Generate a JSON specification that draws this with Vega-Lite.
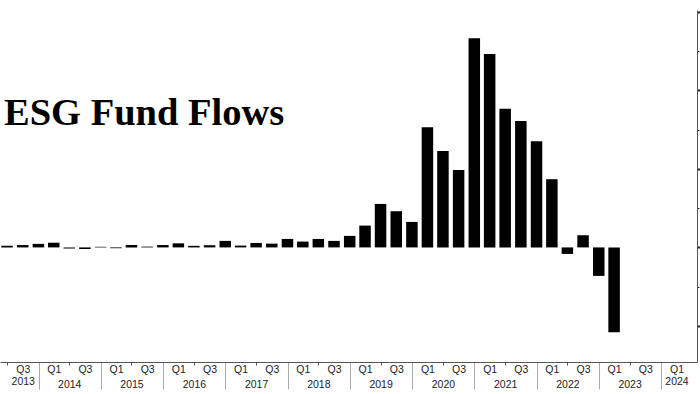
{
  "$schema": "https://vega.github.io/schema/vega-lite/v6.json",
  "width": 697,
  "height": 352,
  "autosize": {"type": "none"},
  "padding": {"left": 0, "right": 3, "top": 10, "bottom": 32},
  "background": "#ffffff",
  "config": {"view": {"stroke": null}, "axis": {"grid": false}},
  "title": {
    "text": "ESG Fund Flows",
    "anchor": "start",
    "frame": "group",
    "orient": "top",
    "font": "Liberation Serif",
    "fontSize": 38.5,
    "fontWeight": "bold",
    "color": "#000000",
    "baseline": "alphabetic",
    "offset": 0,
    "dx": 4,
    "dy": 153
  },
  "data": {
    "values": [
      {"quarter": "2013 Q2", "date": "2013-06-30", "flow": 0.2},
      {"quarter": "2013 Q3", "date": "2013-09-30", "flow": 0.3},
      {"quarter": "2013 Q4", "date": "2013-12-31", "flow": 0.45},
      {"quarter": "2014 Q1", "date": "2014-03-31", "flow": 0.6},
      {"quarter": "2014 Q2", "date": "2014-06-30", "flow": -0.15},
      {"quarter": "2014 Q3", "date": "2014-09-30", "flow": -0.2},
      {"quarter": "2014 Q4", "date": "2014-12-31", "flow": 0.08},
      {"quarter": "2015 Q1", "date": "2015-03-31", "flow": -0.1},
      {"quarter": "2015 Q2", "date": "2015-06-30", "flow": 0.3},
      {"quarter": "2015 Q3", "date": "2015-09-30", "flow": 0.1},
      {"quarter": "2015 Q4", "date": "2015-12-31", "flow": 0.3},
      {"quarter": "2016 Q1", "date": "2016-03-31", "flow": 0.52},
      {"quarter": "2016 Q2", "date": "2016-06-30", "flow": 0.2},
      {"quarter": "2016 Q3", "date": "2016-09-30", "flow": 0.28},
      {"quarter": "2016 Q4", "date": "2016-12-31", "flow": 0.83},
      {"quarter": "2017 Q1", "date": "2017-03-31", "flow": 0.23},
      {"quarter": "2017 Q2", "date": "2017-06-30", "flow": 0.57},
      {"quarter": "2017 Q3", "date": "2017-09-30", "flow": 0.48},
      {"quarter": "2017 Q4", "date": "2017-12-31", "flow": 1.08},
      {"quarter": "2018 Q1", "date": "2018-03-31", "flow": 0.74},
      {"quarter": "2018 Q2", "date": "2018-06-30", "flow": 1.08},
      {"quarter": "2018 Q3", "date": "2018-09-30", "flow": 0.83},
      {"quarter": "2018 Q4", "date": "2018-12-31", "flow": 1.47},
      {"quarter": "2019 Q1", "date": "2019-03-31", "flow": 2.78},
      {"quarter": "2019 Q2", "date": "2019-06-30", "flow": 5.54},
      {"quarter": "2019 Q3", "date": "2019-09-30", "flow": 4.61},
      {"quarter": "2019 Q4", "date": "2019-12-31", "flow": 3.25},
      {"quarter": "2020 Q1", "date": "2020-03-31", "flow": 15.31},
      {"quarter": "2020 Q2", "date": "2020-06-30", "flow": 12.29},
      {"quarter": "2020 Q3", "date": "2020-09-30", "flow": 9.87},
      {"quarter": "2020 Q4", "date": "2020-12-31", "flow": 26.65},
      {"quarter": "2021 Q1", "date": "2021-03-31", "flow": 24.65},
      {"quarter": "2021 Q2", "date": "2021-06-30", "flow": 17.68},
      {"quarter": "2021 Q3", "date": "2021-09-30", "flow": 16.11},
      {"quarter": "2021 Q4", "date": "2021-12-31", "flow": 13.53},
      {"quarter": "2022 Q1", "date": "2022-03-31", "flow": 8.69},
      {"quarter": "2022 Q2", "date": "2022-06-30", "flow": -0.83},
      {"quarter": "2022 Q3", "date": "2022-09-30", "flow": 1.55},
      {"quarter": "2022 Q4", "date": "2022-12-31", "flow": -3.63},
      {"quarter": "2023 Q1", "date": "2023-03-31", "flow": -10.8}
    ]
  },
  "mark": {"type": "bar", "size": 11.5, "color": "#000000"},
  "encoding": {
    "x": {
      "field": "date",
      "type": "temporal",
      "scale": {
        "type": "utc",
        "domain": [
          {"year": 2013, "month": 6, "date": 18, "utc": true},
          {"year": 2024, "month": 6, "date": 30, "utc": true}
        ]
      },
      "axis": {
        "orient": "bottom",
        "title": null,
        "domainColor": "#555555",
        "domainWidth": 1,
        "values": [
          {"year": 2014, "month": 1, "date": 1, "utc": true},
          {"year": 2015, "month": 1, "date": 1, "utc": true},
          {"year": 2016, "month": 1, "date": 1, "utc": true},
          {"year": 2017, "month": 1, "date": 1, "utc": true},
          {"year": 2018, "month": 1, "date": 1, "utc": true},
          {"year": 2019, "month": 1, "date": 1, "utc": true},
          {"year": 2020, "month": 1, "date": 1, "utc": true},
          {"year": 2021, "month": 1, "date": 1, "utc": true},
          {"year": 2022, "month": 1, "date": 1, "utc": true},
          {"year": 2023, "month": 1, "date": 1, "utc": true},
          {"year": 2024, "month": 1, "date": 1, "utc": true},
          {"year": 2013, "month": 6, "date": 30, "utc": true},
          {"year": 2014, "month": 6, "date": 30, "utc": true},
          {"year": 2015, "month": 6, "date": 30, "utc": true},
          {"year": 2016, "month": 6, "date": 30, "utc": true},
          {"year": 2017, "month": 6, "date": 30, "utc": true},
          {"year": 2018, "month": 6, "date": 30, "utc": true},
          {"year": 2019, "month": 6, "date": 30, "utc": true},
          {"year": 2020, "month": 6, "date": 30, "utc": true},
          {"year": 2021, "month": 6, "date": 30, "utc": true},
          {"year": 2022, "month": 6, "date": 30, "utc": true},
          {"year": 2023, "month": 6, "date": 30, "utc": true},
          {"year": 2014, "month": 3, "date": 31, "utc": true},
          {"year": 2015, "month": 3, "date": 31, "utc": true},
          {"year": 2016, "month": 3, "date": 31, "utc": true},
          {"year": 2017, "month": 3, "date": 31, "utc": true},
          {"year": 2018, "month": 3, "date": 31, "utc": true},
          {"year": 2019, "month": 3, "date": 31, "utc": true},
          {"year": 2020, "month": 3, "date": 31, "utc": true},
          {"year": 2021, "month": 3, "date": 31, "utc": true},
          {"year": 2022, "month": 3, "date": 31, "utc": true},
          {"year": 2023, "month": 3, "date": 31, "utc": true},
          {"year": 2024, "month": 3, "date": 31, "utc": true},
          {"year": 2013, "month": 9, "date": 30, "utc": true},
          {"year": 2014, "month": 9, "date": 30, "utc": true},
          {"year": 2015, "month": 9, "date": 30, "utc": true},
          {"year": 2016, "month": 9, "date": 30, "utc": true},
          {"year": 2017, "month": 9, "date": 30, "utc": true},
          {"year": 2018, "month": 9, "date": 30, "utc": true},
          {"year": 2019, "month": 9, "date": 30, "utc": true},
          {"year": 2020, "month": 9, "date": 30, "utc": true},
          {"year": 2021, "month": 9, "date": 30, "utc": true},
          {"year": 2022, "month": 9, "date": 30, "utc": true},
          {"year": 2023, "month": 9, "date": 30, "utc": true}
        ],
        "labelExpr": "utcmonth(datum.value)==2 ? (utcyear(datum.value)==2024 ? ['Q1','2024'] : 'Q1') : utcmonth(datum.value)==8 ? (utcyear(datum.value)==2013 ? ['Q3','2013'] : 'Q3') : (utcmonth(datum.value)==5 && utcyear(datum.value)>2013) ? ['', '' + utcyear(datum.value)] : ''",
        "labelOverlap": false,
        "labelFlush": false,
        "labelBound": false,
        "labelFont": "Liberation Sans",
        "labelFontSize": 10.5,
        "labelColor": "#222222",
        "labelLineHeight": 12.5,
        "labelAlign": "center",
        "labelBaseline": "top",
        "labelPadding": 2,
        "tickSize": {
          "condition": [
            {"test": "utcmonth(datum.value)==0", "value": 27},
            {"test": "utcmonth(datum.value)==5", "value": 3}
          ],
          "value": 0
        },
        "tickColor": {
          "condition": {"test": "utcmonth(datum.value)==0", "value": "#aaaaaa"},
          "value": "#555555"
        },
        "tickWidth": 1
      }
    },
    "y": {
      "field": "flow",
      "type": "quantitative",
      "scale": {"domain": [-14.6, 30.25], "nice": false, "zero": false},
      "axis": {
        "orient": "right",
        "title": null,
        "labels": false,
        "domainColor": "#555555",
        "values": [-10, -5, 0, 5, 10, 15, 20, 25, 30],
        "tickColor": "#222222",
        "tickSize": {
          "condition": {"test": "datum.value % 10 == 0", "value": 3},
          "value": 2
        },
        "tickWidth": {
          "condition": {"test": "datum.value % 10 == 0", "value": 2},
          "value": 1
        }
      }
    }
  }
}
